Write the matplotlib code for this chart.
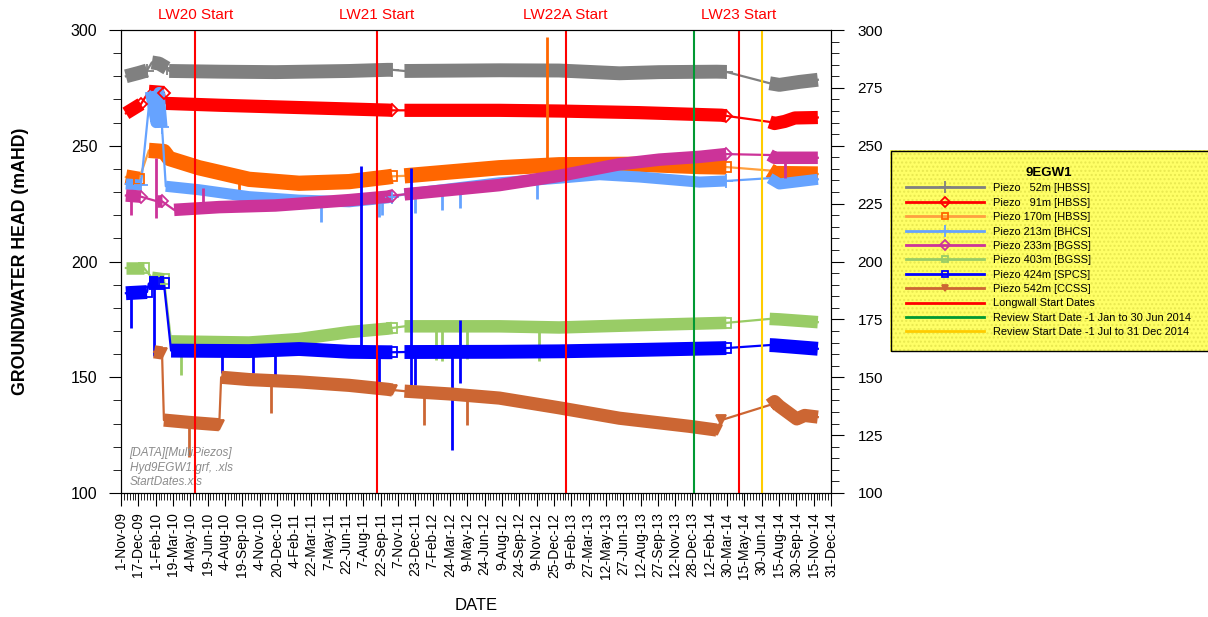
import numpy as np
import pandas as pd
import matplotlib
matplotlib.use('Agg')
import matplotlib.pyplot as plt
import matplotlib.dates as mdates
from matplotlib.lines import Line2D
from matplotlib.patches import Rectangle
from matplotlib.ticker import MultipleLocator, FixedLocator

plt.rcParams['font.family'] = ['Liberation Sans', 'DejaVu Sans']

# ---- data: each piezo is a list of logged segments (dense readings) ----
p52_dates = [['2009-11-14', '2009-12-19', '2010-01-09'],
             ['2010-01-22', '2010-02-10', '2010-03-03'],
             ['2010-03-09', '2010-07-20', '2010-12-16', '2011-06-30', '2011-10-10', '2011-10-23'],
             ['2011-11-24', '2012-08-02', '2013-01-08', '2013-06-17', '2013-10-01', '2014-03-02', '2014-03-28'],
             ['2014-07-21', '2014-08-16', '2014-10-09', '2014-11-26']]
p52_vals = [[280.0, 281.5, 282.5],
            [286.0, 285.5, 283.5],
            [282.3, 282.0, 281.8, 282.3, 282.8, 282.8],
            [282.3, 282.6, 282.5, 281.3, 281.8, 282.0, 281.9],
            [277.0, 276.3, 277.6, 278.5]]

p91_dates = [['2009-11-14', '2009-12-24'],
             ['2010-01-14', '2010-02-23'],
             ['2010-02-28', '2010-07-20', '2011-02-17', '2011-10-10', '2011-10-23'],
             ['2011-11-24', '2012-08-02', '2013-01-08', '2013-08-09', '2014-03-15', '2014-03-28'],
             ['2014-07-21', '2014-08-03', '2014-08-30', '2014-09-26', '2014-11-26']]
p91_vals = [[264.0, 268.0],
            [273.5, 273.0],
            [268.3, 267.5, 266.5, 265.4, 265.3],
            [265.3, 265.3, 265.0, 264.3, 263.2, 262.9],
            [260.3, 259.6, 260.5, 262.0, 262.2]]

p170_dates = [['2009-11-14', '2009-12-19'],
              ['2010-01-14', '2010-02-23', '2010-03-09', '2010-05-27', '2010-10-07', '2011-02-17',
               '2011-06-30', '2011-10-10', '2011-10-23'],
              ['2011-11-24', '2012-08-02', '2013-01-08', '2013-08-09', '2014-01-16', '2014-03-28'],
              ['2014-07-21', '2014-08-03', '2014-11-26']]
p170_vals = [[236.5, 235.5],
             [248.0, 247.5, 244.5, 240.5, 235.5, 233.8, 234.5, 236.5, 236.8],
             [237.0, 240.5, 241.8, 242.0, 241.0, 240.8],
             [239.3, 238.0, 237.8]]

p213_dates = [['2009-11-14', '2009-12-24'],
              ['2010-01-18', '2010-02-02', '2010-02-10', '2010-02-18'],
              ['2010-02-28', '2010-05-27', '2010-10-07', '2011-02-17', '2011-06-30', '2011-10-10', '2011-10-23'],
              ['2011-11-24', '2012-08-02', '2013-01-08', '2013-04-25', '2013-08-09', '2014-01-16', '2014-03-28'],
              ['2014-07-21', '2014-08-16', '2014-11-26']]
p213_vals = [[233.5, 233.0],
             [273.5, 260.0, 273.0, 258.0],
             [232.5, 231.0, 228.0, 226.5, 225.8, 227.5, 228.0],
             [229.0, 234.0, 236.0, 237.5, 236.5, 234.3, 234.8],
             [236.0, 233.5, 235.5]]

p233_dates = [['2009-11-14', '2009-12-24'],
              ['2010-02-05', '2010-02-18'],
              ['2010-03-22', '2010-07-20', '2010-12-16', '2011-06-30', '2011-10-10', '2011-10-23'],
              ['2011-11-24', '2012-08-02', '2013-01-08', '2013-06-17', '2013-10-01', '2014-01-16', '2014-03-28'],
              ['2014-07-21', '2014-08-03', '2014-11-26']]
p233_vals = [[228.5, 228.0],
             [226.0, 226.0],
             [222.3, 223.5, 224.2, 226.5, 228.0, 228.5],
             [229.0, 233.0, 237.0, 242.0, 244.0, 245.2, 246.4],
             [246.0, 244.8, 244.8]]

p403_dates = [['2009-11-14', '2010-01-01'],
              ['2010-01-22', '2010-02-23'],
              ['2010-03-14', '2010-10-07', '2011-02-17', '2011-06-30', '2011-10-10', '2011-10-23'],
              ['2011-11-24', '2012-08-02', '2013-01-08', '2013-08-09', '2014-03-28'],
              ['2014-07-21', '2014-08-16', '2014-11-26']]
p403_vals = [[197.2, 197.2],
             [193.0, 192.3],
             [165.5, 165.0, 166.5, 169.5, 171.0, 171.3],
             [172.0, 172.0, 171.5, 172.5, 173.5],
             [175.2, 175.0, 173.8]]

p424_dates = [['2009-11-14', '2010-01-09'],
              ['2010-01-14', '2010-02-23'],
              ['2010-03-14', '2010-10-07', '2011-02-17', '2011-06-30', '2011-10-10', '2011-10-23'],
              ['2011-11-24', '2012-08-02', '2013-01-08', '2013-08-09', '2014-03-28'],
              ['2014-07-21', '2014-08-03', '2014-11-26']]
p424_vals = [[186.3, 186.8],
             [190.5, 190.5],
             [161.5, 161.3, 162.2, 161.0, 160.8, 160.8],
             [160.9, 161.0, 161.2, 161.8, 162.6],
             [163.9, 163.8, 162.3]]

p542_dates = [['2010-01-28', '2010-02-18'],
              ['2010-02-23', '2010-05-01', '2010-07-20'],
              ['2010-07-25', '2010-10-07', '2011-02-17', '2011-06-30', '2011-10-10', '2011-10-23'],
              ['2011-11-24', '2012-03-22', '2012-08-02', '2013-01-08', '2013-06-17', '2013-12-20', '2014-03-02'],
              ['2014-03-15'],
              ['2014-07-21', '2014-08-03', '2014-08-16', '2014-10-01', '2014-10-22', '2014-11-26']]
p542_vals = [[161.0, 160.5],
             [131.5, 130.5, 129.5],
             [150.0, 149.0, 148.0, 146.5, 144.8, 144.5],
             [144.0, 142.8, 141.0, 136.8, 132.3, 128.8, 127.2],
             [131.5],
             [138.0, 139.5, 137.5, 132.0, 133.5, 132.8]]

# ---- spikes (single anomalous readings): date, base value, spike value ----
p170_spk_dates = ['2010-09-11', '2012-12-07']
p170_spk_from = [235.5, 241.5]
p170_spk_to = [230.0, 297.0]

p213_spk_dates = ['2011-04-17', '2011-09-18', '2011-09-26', '2011-12-23', '2012-03-04', '2012-04-20', '2012-11-11']
p213_spk_from = [226.5, 227.0, 227.0, 229.5, 231.0, 231.5, 235.0]
p213_spk_to = [217.0, 219.2, 220.0, 221.0, 222.2, 223.1, 227.0]

p233_spk_dates = ['2009-11-27', '2010-02-03', '2010-06-07', '2014-08-30']
p233_spk_from = [228.0, 244.7, 223.3, 245.0]
p233_spk_to = [220.1, 218.8, 231.7, 236.0]

p403_spk_dates = ['2010-04-10', '2012-02-17', '2012-03-04', '2012-05-08', '2012-11-16']
p403_spk_from = [165.5, 172.0, 172.0, 172.0, 172.0]
p403_spk_to = [151.0, 157.5, 157.0, 158.0, 157.0]

p424_spk_dates = ['2009-11-27', '2010-01-28', '2010-07-28', '2010-10-18', '2010-12-16', '2011-08-01',
                  '2011-09-18', '2011-12-12', '2011-12-23', '2012-03-30', '2012-04-20']
p424_spk_from = [186.0, 190.0, 161.0, 161.0, 161.5, 161.0, 161.0, 146.7, 161.0, 161.0, 147.5]
p424_spk_to = [171.3, 159.0, 151.8, 151.8, 150.0, 241.3, 146.7, 240.4, 146.7, 118.6, 174.7]

p542_spk_dates = ['2010-05-01', '2010-12-05', '2012-01-16', '2012-05-08']
p542_spk_from = [130.5, 148.0, 144.0, 142.5]
p542_spk_to = [115.5, 134.6, 129.4, 129.4]

# ---- event dates ----
lw_dates = ['2010-05-17', '2011-09-12', '2013-01-25', '2014-04-30']
lw_names = ['LW20 Start', 'LW21 Start', 'LW22A Start', 'LW23 Start']
review_h1 = '2013-12-31'
review_h2 = '2014-06-30'

legend_labels = ['Piezo   52m [HBSS]', 'Piezo   91m [HBSS]', 'Piezo 170m [HBSS]', 'Piezo 213m [BHCS]',
                 'Piezo 233m [BGSS]', 'Piezo 403m [BGSS]', 'Piezo 424m [SPCS]', 'Piezo 542m [CCSS]',
                 'Longwall Start Dates', 'Review Start Date -1 Jan to 30 Jun 2014',
                 'Review Start Date -1 Jul to 31 Dec 2014']

# (dates, vals, spikes, thin colour, band colour, marker, marker face, band width)
series = [
    (p52_dates, p52_vals, None, '#808080', '#808080', '+', 'none', 10),
    (p91_dates, p91_vals, None, '#ff0000', '#ff0000', 'D', 'none', 9.5),
    (p170_dates, p170_vals, (p170_spk_dates, p170_spk_from, p170_spk_to), '#ffa040', '#ff6600', 's', 'none', 11),
    (p213_dates, p213_vals, (p213_spk_dates, p213_spk_from, p213_spk_to), '#66a3ff', '#66a3ff', '+', 'none', 8),
    (p233_dates, p233_vals, (p233_spk_dates, p233_spk_from, p233_spk_to), '#cc3399', '#cc3399', 'D', 'none', 9),
    (p403_dates, p403_vals, (p403_spk_dates, p403_spk_from, p403_spk_to), '#99cc66', '#99cc66', 's', 'none', 9),
    (p424_dates, p424_vals, (p424_spk_dates, p424_spk_from, p424_spk_to), '#0000ff', '#0000ff', 's', 'none', 10),
    (p542_dates, p542_vals, (p542_spk_dates, p542_spk_from, p542_spk_to), '#cc6633', '#cc6633', 'v', '#cc6633', 9.5),
]

fig = plt.figure(figsize=(12.08, 6.17), dpi=100)
ax = fig.add_axes([121 / 1208, 1 - 493 / 617, 710 / 1208, 463 / 617])

handles = []
for dates, vals, spk, c_line, c_band, mk, mfc, lw in series:
    segs = [(pd.to_datetime(d), v) for d, v in zip(dates, vals)]
    all_x = pd.to_datetime(sum(dates, []))
    all_y = sum(vals, [])
    ax.plot(all_x, all_y, color=c_line, lw=1.6, zorder=2)
    for sx, sy in segs:
        if len(sx) > 1:
            ax.plot(sx, sy, color=c_band, lw=lw, solid_capstyle='butt',
                    solid_joinstyle='round', zorder=2)
    if spk is not None:
        ax.vlines(pd.to_datetime(spk[0]), spk[1], spk[2], color=c_band, lw=2, zorder=2)
    ends_x = [s[0][-1] for s in segs[:-1]]
    ends_y = [s[1][-1] for s in segs[:-1]]
    ms = 10 if mk == '+' else 6.5
    ax.plot(ends_x, ends_y, ls='none', marker=mk, ms=ms, mec=c_band, mfc=mfc, mew=1.3, zorder=3)
    handles.append(Line2D([], [], color=c_line, lw=2, marker=mk, ms=ms - 1.5, mec=c_band, mfc=mfc, mew=1.3))

for d, name in zip(lw_dates, lw_names):
    ax.axvline(pd.Timestamp(d), color='#ff0000', lw=1.5, zorder=4)
    ax.text(pd.Timestamp(d), 1.033, name, color='#ff0000', fontsize=11, ha='center', va='center',
            transform=ax.get_xaxis_transform())
ax.axvline(pd.Timestamp(review_h1), color='#009933', lw=1.5, zorder=4)
ax.axvline(pd.Timestamp(review_h2), color='#ffcc00', lw=1.5, zorder=4)
handles += [Line2D([], [], color='#ff0000', lw=2),
            Line2D([], [], color='#009933', lw=2),
            Line2D([], [], color='#ffcc00', lw=2)]

# axes
start = pd.Timestamp('2009-11-01')
end = pd.Timestamp('2014-12-31')
ticks = [start + pd.Timedelta(days=46 * k) for k in range(42)]
minor = [start + pd.Timedelta(days=46 * k / 6) for k in range(41 * 6 + 1)]
ax.set_xlim(start, end)
ax.set_ylim(100, 300)
ax.xaxis.set_major_locator(FixedLocator(mdates.date2num(ticks)))
ax.xaxis.set_minor_locator(FixedLocator(mdates.date2num(minor)))
ax.set_xticklabels([f"{t.day}-{t:%b-%y}" for t in ticks], rotation=90, fontsize=10)
ax.yaxis.set_major_locator(MultipleLocator(50))
ax.yaxis.set_minor_locator(MultipleLocator(10))
ax.tick_params(axis='y', which='major', length=9, labelsize=11.5, pad=8)
ax.tick_params(axis='y', which='minor', length=6)
ax.tick_params(axis='x', which='major', length=9, pad=5)
ax.tick_params(axis='x', which='minor', length=5)
ax.set_ylabel('GROUNDWATER HEAD (mAHD)', fontsize=12.8, fontweight='bold', labelpad=30)
ax.set_xlabel('DATE', fontsize=12, labelpad=14)

ax2 = ax.twinx()
ax2.set_ylim(100, 300)
ax2.yaxis.set_major_locator(MultipleLocator(25))
ax2.yaxis.set_minor_locator(MultipleLocator(5))
ax2.tick_params(axis='y', which='major', length=9, labelsize=11, pad=10)
ax2.tick_params(axis='y', which='minor', length=6)

ax.text(0.012, 0.01, '[DATA][MultiPiezos]\nHyd9EGW1.grf, .xls\nStartDates.xls', transform=ax.transAxes,
        fontsize=8.5, style='italic', color='#8c8c8c', ha='left', va='bottom', linespacing=1.3)

# legend box
lax = fig.add_axes([890 / 1208, 1 - 352 / 617, 318 / 1208, 202 / 617])
lax.set_xlim(0, 1)
lax.set_ylim(0, 1)
lax.axis('off')
lax.add_patch(Rectangle((0, 0), 1, 1, facecolor='#ffff66', edgecolor='#e8e850', lw=0, hatch='....',
                        transform=lax.transAxes, clip_on=False))
lax.add_patch(Rectangle((0.003, 0.003), 1.2, 0.994, facecolor='none', edgecolor='black', lw=1,
                        transform=lax.transAxes, clip_on=False))
leg = lax.legend(handles, legend_labels, loc='upper left', bbox_to_anchor=(0.02, 0.965), frameon=False,
                 fontsize=7.9, handlelength=7.1, handletextpad=0.8, labelspacing=0.4, numpoints=1,
                 title='9EGW1', title_fontproperties={'weight': 'bold', 'size': 9.5})

fig.savefig('out.png', dpi=100)
